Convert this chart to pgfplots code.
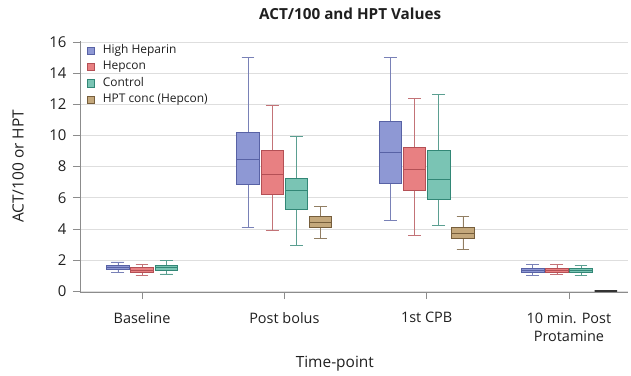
\documentclass[border=0pt]{standalone}
\usepackage{fontspec}
\setmainfont{Open Sans}
\usepackage{pgfplots}
\pgfplotsset{compat=1.18}
\usepgfplotslibrary{statistics}
\definecolor{bF}{RGB}{142,152,212}
\definecolor{bD}{RGB}{88,98,165}
\definecolor{rF}{RGB}{232,128,130}
\definecolor{rD}{RGB}{180,80,85}
\definecolor{tF}{RGB}{122,196,180}
\definecolor{tD}{RGB}{50,135,118}
\definecolor{nF}{RGB}{196,168,124}
\definecolor{nD}{RGB}{118,94,60}
\newcommand{\bx}[8]{\addplot[forget plot, draw=#1, fill=#2, line width=0.8bp,
  boxplot/every whisker/.style={draw=#1!80!white, line width=0.7bp},
  boxplot prepared={draw direction=y, draw position=#3, lower whisker=#4, lower quartile=#5, median=#6,
  upper quartile=#7, upper whisker=#8, box extend=0.158, whisker extend=0.09}] coordinates {};}
\begin{document}
\begin{tikzpicture}
\begin{axis}[
  name=ax,
  scale only axis,
  width=548bp, height=251bp,
  xmin=-0.436, xmax=3.415,
  ymin=-0.06, ymax=16.08,
  axis x line*=bottom, axis y line*=left,
  axis line style={-, draw=black!45, line width=0.6bp},
  xtick={0,1,2,3},
  xticklabels={Baseline, Post bolus, 1st CPB, {10 min. Post\\Protamine}},
  ytick={0,2,...,16},
  ymajorgrids,
  grid style={black!13, line width=0.6bp},
  tick align=outside,
  major tick length=7bp,
  tick style={black!45, line width=0.6bp},
  /pgf/number format/assume math mode=true,
  xticklabel style={font=\fontsize{14.5}{18}\selectfont, align=center, color=black!88, yshift=-10bp},
  yticklabel style={font=\fontsize{15}{15}\selectfont, color=black!88, xshift=-3bp},
  title={\textbf{ACT/100 and HPT Values}},
  title style={font=\fontsize{15.3}{16}\selectfont, at={(axis description cs:0.493,1)}, anchor=base, yshift=16bp, color=black!88},
  xlabel={Time-point},
  xlabel style={font=\fontsize{15.5}{16}\selectfont, at={(axis description cs:0.465,0)}, anchor=base, yshift=-75bp, color=black!88},
  ylabel={ACT/100 or HPT},
  ylabel style={font=\fontsize{15.5}{16}\selectfont, at={(axis description cs:-0.113,0.5)}, anchor=center, color=black!88},
  legend style={draw=none, fill=none, at={(axis description cs:0,1)}, anchor=north west,
    xshift=7bp, yshift=-3.3bp, inner xsep=0pt, inner ysep=0pt, row sep=4.4bp,
    font=\fontsize{12}{14}\selectfont, text=black!88,
    nodes={inner sep=0pt, text height=9bp, text depth=3bp},
    /tikz/every odd column/.append style={column sep=8bp}},
  legend cell align=left,
]
\addlegendimage{legend image code/.code={\draw[draw=bD,fill=bF,line width=0.6bp] (0bp,-3.5bp) rectangle (7bp,3.5bp);}}
\addlegendentry{High Heparin}
\addlegendimage{legend image code/.code={\draw[draw=rD,fill=rF,line width=0.6bp] (0bp,-3.5bp) rectangle (7bp,3.5bp);}}
\addlegendentry{Hepcon}
\addlegendimage{legend image code/.code={\draw[draw=tD,fill=tF,line width=0.6bp] (0bp,-3.5bp) rectangle (7bp,3.5bp);}}
\addlegendentry{Control}
\addlegendimage{legend image code/.code={\draw[draw=nD,fill=nF,line width=0.6bp] (0bp,-3.5bp) rectangle (7bp,3.5bp);}}
\addlegendentry{HPT conc (Hepcon)}
% High Heparin
\bx{bD}{bF}{-0.17}{1.18}{1.42}{1.55}{1.68}{1.87}
\bx{bD}{bF}{0.745}{4.08}{6.87}{8.49}{10.23}{15.03}
\bx{bD}{bF}{1.745}{4.53}{6.93}{8.90}{10.94}{15.03}
\bx{bD}{bF}{2.745}{0.99}{1.21}{1.33}{1.47}{1.72}
% Hepcon
\bx{rD}{rF}{0}{1.01}{1.23}{1.35}{1.49}{1.72}
\bx{rD}{rF}{0.915}{3.89}{6.22}{7.51}{9.03}{11.92}
\bx{rD}{rF}{1.915}{3.59}{6.48}{7.85}{9.27}{12.37}
\bx{rD}{rF}{2.915}{1.05}{1.21}{1.35}{1.47}{1.72}
% Control
\bx{tD}{tF}{0.17}{1.10}{1.36}{1.50}{1.68}{1.96}
\bx{tD}{tF}{1.085}{2.96}{5.28}{6.50}{7.25}{9.97}
\bx{tD}{tF}{2.085}{4.23}{5.90}{7.19}{9.03}{12.63}
\bx{tD}{tF}{3.085}{0.99}{1.18}{1.32}{1.47}{1.63}
% HPT conc
\bx{nD}{nF}{1.255}{3.39}{4.08}{4.40}{4.79}{5.43}
\bx{nD}{nF}{2.255}{2.69}{3.37}{3.70}{4.10}{4.79}
\addplot[forget plot, draw=black!80, line width=1.6bp,
  boxplot prepared={draw direction=y, draw position=3.26, lower whisker=0, lower quartile=0, median=0,
  upper quartile=0, upper whisker=0, box extend=0.158, whisker extend=0.09}] coordinates {};
\end{axis}
\path (-80bp,-84bp) rectangle (551bp,292bp);
\end{tikzpicture}
\end{document}
